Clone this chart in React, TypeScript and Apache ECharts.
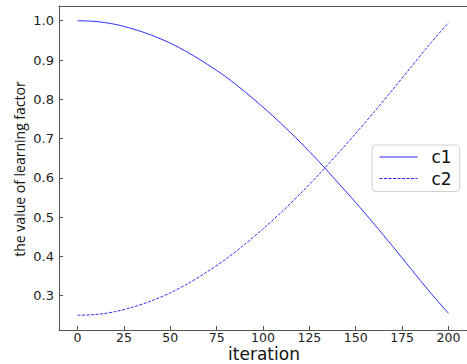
import React, { useEffect, useRef } from "react";
import * as echarts from "echarts";

const iterations = [0, 10, 20, 30, 40, 50, 60, 70, 80, 90, 100, 110, 120, 130, 140, 150, 160, 170, 180, 190, 200];
const c1 = [1.0, 0.998, 0.991, 0.979, 0.963, 0.943, 0.918, 0.889, 0.857, 0.82, 0.78, 0.737, 0.691, 0.642, 0.59, 0.537, 0.482, 0.425, 0.367, 0.309, 0.255];
const c2 = [0.25, 0.252, 0.259, 0.271, 0.287, 0.307, 0.332, 0.361, 0.393, 0.43, 0.47, 0.513, 0.559, 0.608, 0.66, 0.713, 0.768, 0.825, 0.883, 0.941, 0.995];
const xTicks = [0, 25, 50, 75, 100, 125, 150, 175, 200];
const yTicks = [0.3, 0.4, 0.5, 0.6, 0.7, 0.8, 0.9, 1.0];

const LINE = "#2b2bff";
const SPINE = "#555555";
const FONT = "DejaVu Sans";

export default function App() {
  const ref = useRef<HTMLDivElement>(null);
  useEffect(() => {
    if (!ref.current) return;
    const chart = echarts.init(ref.current, null, { renderer: "svg" });
    const axisLine = { show: true, onZero: false, lineStyle: { color: SPINE, width: 1 } };
    chart.setOption({
      animation: false,
      backgroundColor: "#ffffff",
      grid: { left: 59, top: 6, right: -4, bottom: 34, containLabel: false },
      xAxis: [
        {
          type: "value",
          min: -10,
          max: 210,
          axisLine,
          splitLine: { show: false },
          axisTick: { show: true, inside: true, length: 4, customValues: xTicks, lineStyle: { color: SPINE } },
          axisLabel: {
            customValues: xTicks,
            margin: 0,
            fontFamily: FONT,
            fontSize: 12.5,
            lineHeight: 14,
            color: "#222",
            formatter: (v: number) => String(v),
          },
        },
        {
          type: "value",
          position: "top",
          min: -10,
          max: 210,
          axisLine,
          splitLine: { show: false },
          axisTick: { show: false },
          axisLabel: { show: false },
        },
      ],
      yAxis: [
        {
          type: "value",
          min: 0.2125,
          max: 1.0375,
          axisLine,
          splitLine: { show: false },
          axisTick: { show: true, inside: true, length: 4, customValues: yTicks, lineStyle: { color: SPINE } },
          axisLabel: {
            customValues: yTicks,
            margin: 5,
            fontFamily: FONT,
            fontSize: 13,
            color: "#222",
            formatter: (v: number) => v.toFixed(1),
          },
        },
        {
          type: "value",
          position: "right",
          min: 0.2125,
          max: 1.0375,
          axisLine,
          splitLine: { show: false },
          axisTick: { show: false },
          axisLabel: { show: false },
        },
      ],
      legend: {
        left: 372,
        top: 145,
        orient: "vertical",
        backgroundColor: "#ffffff",
        borderColor: "#d0d0d0",
        borderWidth: 1,
        borderRadius: 4,
        padding: [2, 8, 3, 7],
        itemGap: 1.5,
        itemWidth: 38,
        itemHeight: 10,
        itemStyle: { opacity: 0 },
        lineStyle: { width: 1 },
        textStyle: { fontFamily: FONT, fontSize: 17, color: "#111", lineHeight: 20, padding: [0, 0, 0, 9] },
        data: ["c1", "c2"],
      },
      graphic: [
        {
          type: "text",
          x: 19,
          y: 169,
          rotation: Math.PI / 2,
          style: {
            text: "the value of learning factor",
            fontFamily: "Open Sans",
            fontSize: 14,
            fill: "#111",
            textAlign: "center",
            textVerticalAlign: "middle",
          },
        },
        {
          type: "text",
          x: 264,
          y: 353.5,
          style: {
            text: "iteration",
            fontFamily: FONT,
            fontSize: 17,
            fill: "#111",
            textAlign: "center",
            textVerticalAlign: "middle",
          },
        },
      ],
      series: [
        {
          name: "c1",
          type: "line",
          data: iterations.map((x, i) => [x, c1[i]]),
          symbol: "none",
          smooth: 0.3,
          lineStyle: { color: LINE, width: 1, type: "solid" },
          itemStyle: { color: LINE },
        },
        {
          name: "c2",
          type: "line",
          data: iterations.map((x, i) => [x, c2[i]]),
          symbol: "none",
          smooth: 0.3,
          lineStyle: { color: LINE, width: 1, type: [3, 1.5] },
          itemStyle: { color: LINE },
        },
      ],
    });
    return () => chart.dispose();
  }, []);
  return (
    <div
      ref={ref}
      style={{ position: "fixed", left: 0, top: 0, width: 467, height: 364, background: "#fff" }}
    />
  );
}
